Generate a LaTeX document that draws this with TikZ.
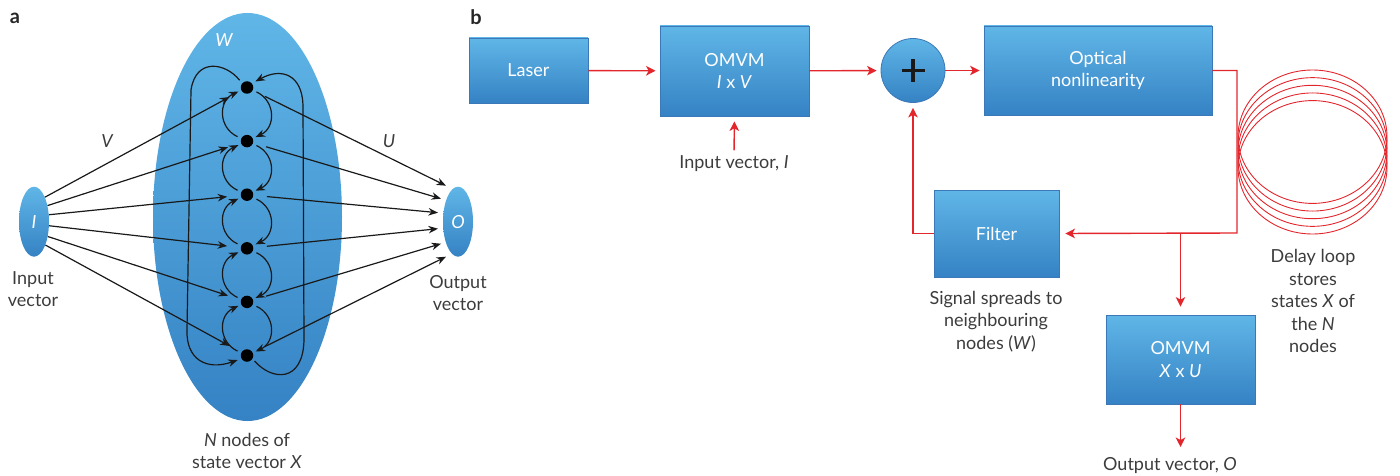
\documentclass[tikz,border=0pt]{standalone}
\usepackage{fontspec}
\setmainfont{Lato}
\usetikzlibrary{arrows.meta,shapes.geometric,calc}
\definecolor{txt}{HTML}{3C3C3C}
\definecolor{bluetop}{HTML}{60B6E7}
\definecolor{bluebot}{HTML}{3582C4}
\definecolor{boxedge}{HTML}{3A78B8}
\definecolor{redl}{HTML}{E3262C}
\begin{document}
\begin{tikzpicture}[x=1pt,y=1pt,
  every node/.style={font=\fontsize{18}{22.5}\selectfont, text=txt},
  bbox/.style={rectangle, draw=boxedge, line width=0.8pt, top color=bluetop, bottom color=bluebot, text=white, align=center, inner sep=0pt},
  blob/.style={ellipse, top color=bluetop, bottom color=bluebot, inner sep=0pt, text=white},
  dot/.style={circle, fill=black, minimum size=12.5pt, inner sep=0pt},
  barr/.style={draw=black!90, line width=1.2pt, -{Stealth[length=9.5pt,width=7.5pt]}},
  rarr/.style={draw=redl, line width=1.4pt, -{Stealth[length=9.5pt,width=9.5pt,inset=2.5pt]}},
  rline/.style={draw=redl, line width=1.4pt},
  lbl/.style={align=center},
  panel/.style={font=\fontsize{20}{20}\selectfont\bfseries, text=black!85}
]
\useasboundingbox (0,0) rectangle (1400,475);

% ---------------- panel a ----------------
\node[panel] (pa) at (15,457) {a};
\node[blob, minimum width=189pt, minimum height=408pt] (big) at (247.5,258) {};
\node[text=white, font=\fontsize{18}{22}\selectfont\itshape] (wl) at (224,435) {W};

\foreach \i/\y in {1/387.5,2/333.9,3/280.3,4/226.7,5/173.1,6/119.5}
  \node[dot] (n\i) at (247,\y) {};

\node[blob, minimum width=30pt, minimum height=70pt, font=\fontsize{18}{22}\selectfont\itshape] (I) at (34,253.3) {I};
\node[blob, minimum width=30pt, minimum height=70pt, font=\fontsize{18}{22}\selectfont\itshape] (O) at (458,253.3) {O};

\node[lbl] (inl) at (33,186) {Input\\vector};
\node[lbl] (outl) at (458,182) {Output\\vector};
\node[lbl] (nl) at (247,24) {\textit{N} nodes of\\state vector \textit{X}};
\node[font=\fontsize{18}{22}\selectfont\itshape] (vl) at (107,334) {V};
\node[font=\fontsize{18}{22}\selectfont\itshape] (ul) at (389,334) {U};

% input arrows
\foreach \i/\a in {1/66,2/50,3/25,4/-15,5/-47,6/-64}
  \draw[barr, shorten >=13.5pt] (I.\a) -- (n\i);

% output arrows
\coordinate (o1) at ($(O.center)+(-12,36)$);
\coordinate (o2) at ($(O.center)+(-17,23)$);
\coordinate (o3) at ($(O.center)+(-20,9)$);
\coordinate (o4) at ($(O.center)+(-20,-7)$);
\coordinate (o5) at ($(O.center)+(-17,-22)$);
\coordinate (o6) at ($(O.center)+(-12,-35)$);
\foreach \i in {1,...,6}
  \draw[barr, shorten <=13.5pt] (n\i) -- (o\i);

% neighbour arcs
\foreach \i/\j in {1/2,2/3,3/4,4/5,5/6}{
  \draw[barr, shorten <=4pt, shorten >=3pt] (n\i.-25) to[out=-25,in=25,looseness=1.35] (n\j.25);
  \draw[barr, shorten <=4pt, shorten >=3pt] (n\j.155) to[out=155,in=205,looseness=1.35] (n\i.205);
}

% outer loops
\draw[barr, shorten <=4pt, shorten >=4pt] (n1.140) .. controls (226,412) and (196,418) .. (191,385) -- (187,145) .. controls (186,116) and (206,104) .. (n6.210);
\draw[barr, shorten <=3pt, shorten >=4pt] (n6.-30) .. controls (272,94) and (303,92) .. (304,135) -- (303,370) .. controls (302,400) and (282,408) .. (n1.40);

% ---------------- panel b ----------------
\node[panel] (pb) at (476,458) {b};

\node[bbox, minimum width=119pt, minimum height=65pt] (laser) at (528.5,404.5) {Laser};
\node[bbox, minimum width=149pt, minimum height=90pt] (omvm1) at (734.5,404) {OMVM\\\textit{I} x \textit{V}};
\node[circle, draw=boxedge, line width=0.8pt, top color=bluetop, bottom color=bluebot, minimum size=64pt, inner sep=0pt] (plus) at (913,404.5) {};
\draw[line width=3.6pt, black!90] ($(plus.center)+(-11.5,0)$) -- ($(plus.center)+(11.5,0)$);
\draw[line width=3.6pt, black!90] ($(plus.center)+(0,-11.5)$) -- ($(plus.center)+(0,11.5)$);
\node[bbox, minimum width=228pt, minimum height=89pt] (optical) at (1098,404.5) {Optical\\nonlinearity};
\node[bbox, minimum width=125pt, minimum height=87pt] (filter) at (996.5,241.5) {Filter};
\node[bbox, minimum width=149pt, minimum height=89pt] (omvm2) at (1180.5,115.5) {OMVM\\\textit{X} x \textit{U}};

\node (inv) at (734,311) {Input vector, \textit{I}};
\node[lbl] (sig) at (996,153.5) {Signal spreads to\\neighbouring\\nodes (\textit{W})};
\node[lbl] (dly) at (1313,174) {Delay loop\\stores\\states \textit{X} of\\the \textit{N}\\nodes};
\node (outv) at (1170,9) {Output vector, \textit{O}};

% coil
\foreach \k in {0,...,4}
  \draw[redl, line width=0.9pt] (1312.5,{338.3-\k*7.65}) ellipse [x radius=74.5, y radius=66.7];

% red connectors
\draw[rarr, shorten >=4pt] (laser) -- (omvm1);
\draw[rarr, shorten >=4pt] (omvm1) -- (plus);
\draw[rarr, shorten >=4pt] (plus) -- (optical);
\draw[rarr, shorten >=5pt, shorten <=2pt] (inv.north) -- (omvm1.south);

\coordinate (c2) at (1237,242);
\coordinate (br) at (1180.5,242);
\coordinate (oe) at (1180.5,28);
\draw[rarr, shorten >=6pt] (optical.east) -| (c2) -- (filter.east);
\draw[rarr, shorten >=8pt] (br) -- (omvm2.north);
\draw[rarr, shorten >=5pt] (filter.west) -| (plus.south);
\draw[rarr] (omvm2.south) -- (oe);
\end{tikzpicture}
\end{document}
